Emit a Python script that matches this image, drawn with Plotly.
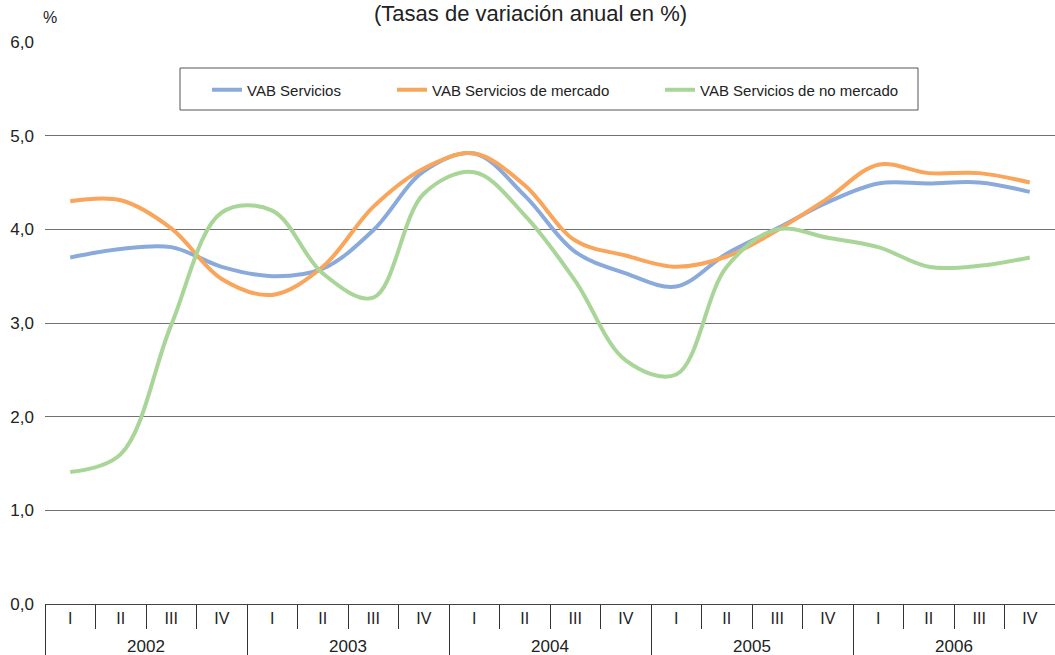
import plotly.graph_objects as go

years = ["2002", "2003", "2004", "2005", "2006"]
quarters = ["I", "II", "III", "IV"]

vab_servicios = [3.70, 3.79, 3.81, 3.60, 3.50, 3.58, 3.99, 4.62, 4.81, 4.36,
                 3.76, 3.53, 3.39, 3.74, 4.01, 4.29, 4.49, 4.49, 4.50, 4.40]
vab_mercado = [4.30, 4.31, 4.01, 3.47, 3.30, 3.60, 4.24, 4.65, 4.81, 4.47,
               3.88, 3.72, 3.60, 3.71, 3.99, 4.33, 4.69, 4.60, 4.60, 4.50]
vab_no_mercado = [1.41, 1.60, 2.98, 4.18, 4.20, 3.53, 3.27, 4.38, 4.61, 4.15,
                  3.45, 2.60, 2.45, 3.60, 4.00, 3.91, 3.81, 3.60, 3.61, 3.70]

series_names = ["VAB Servicios", "VAB Servicios de mercado", "VAB Servicios de no mercado"]
series_values = [vab_servicios, vab_mercado, vab_no_mercado]
series_colors = ["#8aaadb", "#f9a55b", "#a9d598"]

y_ticks = [0, 1, 2, 3, 4, 5, 6]
y_ticktext = ["0,0", "1,0", "2,0", "3,0", "4,0", "5,0", "6,0"]

# derived category keys (one per quarter)
x_cats = [f"{q}-{y}" for y in years for q in quarters]
x_quarter_text = [q for _ in years for q in quarters]
nq = len(quarters)
year_centers = [i * nq + (nq - 1) / 2 for i in range(len(years))]

# plot-area geometry in pixels
W, H = 1055, 655
L, R, T, B = 45, 0, 42, 51
PW, PH = W - L - R, H - T - B

def px_x(p):
    return (p - L) / PW

def px_y(p):
    return (H - B - p) / PH

legend_ids = ["legend", "legend2", "legend3"]
legend_x_px = [207, 392, 660]

font_family = "Liberation Sans, Arial, sans-serif"

fig = go.Figure()
for name, vals, col, lid in zip(series_names, series_values, series_colors, legend_ids):
    fig.add_trace(go.Scatter(
        x=x_cats, y=vals, name=name, mode="lines", legend=lid,
        line=dict(color=col, width=4, shape="spline", smoothing=1.0),
    ))

# empty helper trace so the year axis (x2) is drawn
fig.add_trace(go.Scatter(
    x=year_centers, y=[None] * len(years), xaxis="x2", yaxis="y",
    mode="lines", showlegend=False, hoverinfo="skip",
))

legend_common = dict(
    orientation="h", yanchor="middle", xanchor="left", y=px_y(90),
    borderwidth=0, bgcolor="rgba(0,0,0,0)",
    font=dict(size=15, family=font_family, color="#222222"),
)
layout_legends = {}
for lid, lx in zip(legend_ids, legend_x_px):
    layout_legends[lid] = dict(legend_common, x=px_x(lx))

fig.update_layout(
    width=W, height=H,
    margin=dict(l=L, r=R, t=T, b=B, autoexpand=False),
    paper_bgcolor="white", plot_bgcolor="white",
    font=dict(family=font_family, color="#222222", size=16),
    showlegend=True,
    **layout_legends,
    xaxis=dict(
        type="category", range=[-0.5, len(x_cats) - 0.5], automargin=False,
        tickmode="array", tickvals=x_cats, ticktext=x_quarter_text,
        tickson="boundaries", ticks="outside", ticklen=24, tickcolor="#333333", tickwidth=1,
        showline=True, linecolor="#444444", linewidth=1,
        showgrid=False, zeroline=False, tickfont=dict(size=16),
    ),
    xaxis2=dict(
        overlaying="x", side="bottom", anchor="y", type="linear", automargin=False,
        range=[-0.5, len(x_cats) - 0.5],
        tickmode="array", tickvals=year_centers, ticktext=years,
        ticks="", showline=False, showgrid=False, zeroline=False,
        ticklabelstandoff=30, tickfont=dict(size=17),
        minor=dict(ticks="outside", tick0=-0.5, dtick=nq, ticklen=60,
                   tickcolor="#333333", tickwidth=1, showgrid=False),
    ),
    yaxis=dict(
        range=[0, 6], tickvals=y_ticks, ticktext=y_ticktext, automargin=False,
        showgrid=True, gridcolor="#707070", gridwidth=1,
        zeroline=False, showline=False, ticks="", ticklabelstandoff=10,
        tickfont=dict(size=17),
    ),
)

# legend frame
fig.add_shape(type="rect", xref="paper", yref="paper",
              x0=px_x(180), x1=px_x(918), y0=px_y(110), y1=px_y(68),
              line=dict(color="#555555", width=1), fillcolor="rgba(0,0,0,0)", layer="above")

fig.add_annotation(text="(Tasas de variación anual en %)", xref="paper", yref="paper",
                   x=px_x(530), y=px_y(14), xanchor="center", yanchor="middle",
                   showarrow=False, font=dict(size=22))
fig.add_annotation(text="%", xref="paper", yref="paper",
                   x=px_x(50), y=px_y(18), xanchor="center", yanchor="middle",
                   showarrow=False, font=dict(size=16))

fig.write_html("out.html", config={"displayModeBar": False},
               post_script="document.body.style.margin='0px';")
